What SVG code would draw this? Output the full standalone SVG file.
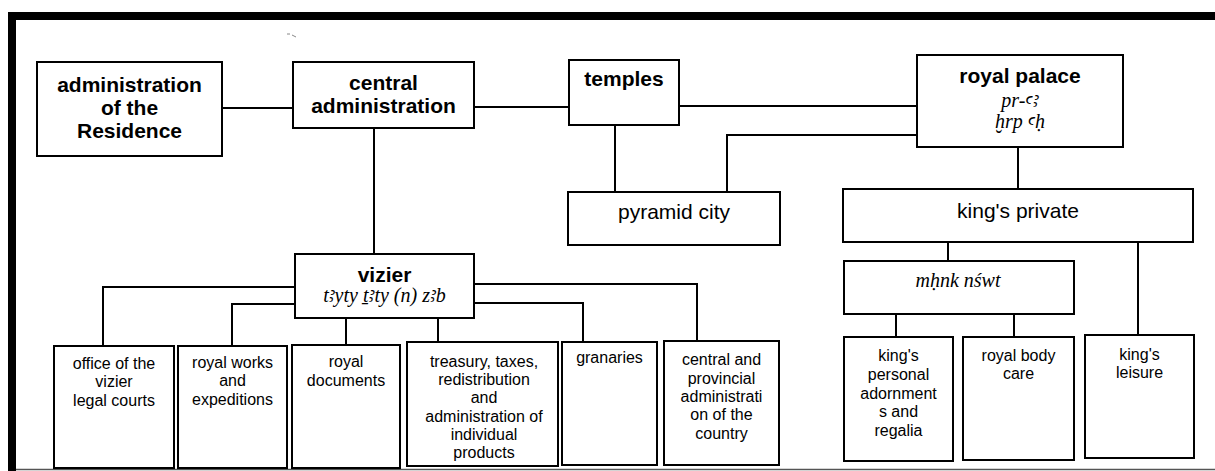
<svg xmlns="http://www.w3.org/2000/svg" width="1215" height="471" viewBox="0 0 1215 471">
<style>
.box{fill:#fff;stroke:#000;stroke-width:2}
.conn{fill:none;stroke:#000;stroke-width:2}
text{font-family:"Liberation Sans",Arial,sans-serif;text-anchor:middle;fill:#000}
.b{font-weight:bold;font-size:21px}
.r{font-size:21px}
.s{font-size:16px}
.tr{font-family:"Liberation Serif","DejaVu Serif","Noto Sans",serif;font-style:italic;font-size:20px}
</style>
<rect width="1215" height="471" fill="#fff"/>
<g id="frame">
<rect x="8" y="12" width="1207" height="8" fill="#000"/>
<rect x="8" y="12" width="8" height="459" fill="#000"/>
<line x1="16" y1="469.5" x2="1215" y2="469.5" stroke="#555" stroke-width="1.5"/>
<path d="M287,34 L290,34 M292,35 L296,37" stroke="#888" stroke-width="1" fill="none"/>
</g>
<g id="connectors">
<path class="conn" d="M222,108 H293"/>
<path class="conn" d="M474,107 H569"/>
<path class="conn" d="M679,106 H917"/>
<path class="conn" d="M917,135 H727 V192"/>
<path class="conn" d="M615,125 V192"/>
<path class="conn" d="M374,128 V254"/>
<path class="conn" d="M1018,147 V189"/>
<path class="conn" d="M948,242 V261"/>
<path class="conn" d="M1138,242 V335"/>
<path class="conn" d="M896,314 V337"/>
<path class="conn" d="M1014,314 V337"/>
<path class="conn" d="M295,287 H103 V346"/>
<path class="conn" d="M295,304 H232 V346"/>
<path class="conn" d="M346,318 V345"/>
<path class="conn" d="M438,318 V342"/>
<path class="conn" d="M474,303 H583 V342"/>
<path class="conn" d="M474,284 H697 V341"/>
</g>
<g id="residence">
<rect class="box" x="37" y="62" width="185" height="94"/>
<text class="b" x="129.5" y="92">administration</text>
<text class="b" x="129.5" y="115">of the</text>
<text class="b" x="129.5" y="138">Residence</text>
</g>
<g id="central">
<rect class="box" x="293" y="62" width="181" height="66"/>
<text class="b" x="383.5" y="90">central</text>
<text class="b" x="383.5" y="113">administration</text>
</g>
<g id="temples">
<rect class="box" x="569" y="60" width="110" height="65"/>
<text class="b" x="624" y="86">temples</text>
</g>
<g id="palace">
<rect class="box" x="917" y="55" width="206" height="92"/>
<text class="b" x="1020" y="83">royal palace</text>
<text class="tr" x="1020" y="107">pr-ꜥꜣ</text>
<text class="tr" x="1020" y="128">ḫrp ꜥḥ</text>
</g>
<g id="pyramid">
<rect class="box" x="568" y="192" width="212" height="53"/>
<text class="r" x="674" y="219">pyramid city</text>
</g>
<g id="private">
<rect class="box" x="843" y="189" width="350" height="53"/>
<text class="r" x="1018" y="218">king's private</text>
</g>
<g id="mhnk">
<rect class="box" x="844" y="261" width="230" height="53"/>
<text class="tr" x="958" y="287">mḥnk nśwt</text>
</g>
<g id="vizier">
<rect class="box" x="295" y="254" width="179" height="64"/>
<text class="b" x="384.5" y="282">vizier</text>
<text class="tr" x="384.5" y="302">tꜣyty ṯꜣty (n) zꜣb</text>
</g>
<g id="office">
<rect class="box" x="54" y="346" width="120" height="122"/>
<text class="s" x="114" y="368.5">office of the</text>
<text class="s" x="114" y="387">vizier</text>
<text class="s" x="114" y="405.5">legal courts</text>
</g>
<g id="works">
<rect class="box" x="178" y="346" width="109" height="122"/>
<text class="s" x="232.5" y="367.5">royal works</text>
<text class="s" x="232.5" y="386">and</text>
<text class="s" x="232.5" y="404.5">expeditions</text>
</g>
<g id="documents">
<rect class="box" x="292" y="345" width="108" height="123"/>
<text class="s" x="346" y="367">royal</text>
<text class="s" x="346" y="385.5">documents</text>
</g>
<g id="treasury">
<rect class="box" x="407" y="342" width="151" height="124"/>
<text class="s" x="484" y="366.5">treasury, taxes,</text>
<text class="s" x="484" y="385">redistribution</text>
<text class="s" x="484" y="403">and</text>
<text class="s" x="484" y="421.5">administration of</text>
<text class="s" x="484" y="440">individual</text>
<text class="s" x="484" y="458">products</text>
</g>
<g id="granaries">
<rect class="box" x="562" y="342" width="95" height="123"/>
<text class="s" x="609.5" y="363">granaries</text>
</g>
<g id="provincial">
<rect class="box" x="664" y="341" width="115" height="124"/>
<text class="s" x="721.5" y="365">central and</text>
<text class="s" x="721.5" y="383.5">provincial</text>
<text class="s" x="721.5" y="402">administrati</text>
<text class="s" x="721.5" y="420">on of the</text>
<text class="s" x="721.5" y="438.5">country</text>
</g>
<g id="adornments">
<rect class="box" x="844" y="337" width="109" height="124"/>
<text class="s" x="898.5" y="360.5">king's</text>
<text class="s" x="898.5" y="379.5">personal</text>
<text class="s" x="898.5" y="398.5">adornment</text>
<text class="s" x="898.5" y="417">s and</text>
<text class="s" x="898.5" y="436">regalia</text>
</g>
<g id="bodycare">
<rect class="box" x="963" y="337" width="111" height="123"/>
<text class="s" x="1018.5" y="360.5">royal body</text>
<text class="s" x="1018.5" y="379">care</text>
</g>
<g id="leisure">
<rect class="box" x="1085" y="335" width="109" height="123"/>
<text class="s" x="1139.5" y="359.5">king's</text>
<text class="s" x="1139.5" y="378">leisure</text>
</g>
</svg>
